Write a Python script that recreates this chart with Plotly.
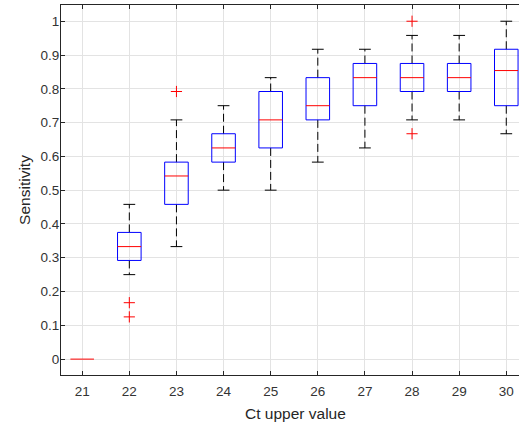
import plotly.graph_objects as go

# ---- data ----
ct_values = [21, 22, 23, 24, 25, 26, 27, 28, 29, 30]
upper_whisker = [0.0, 0.458, 0.708, 0.750, 0.833, 0.917, 0.917, 0.958, 0.958, 1.000]
q3_values = [0.0, 0.375, 0.583, 0.667, 0.792, 0.833, 0.875, 0.875, 0.875, 0.917]
median_values = [0.0, 0.333, 0.542, 0.625, 0.708, 0.750, 0.833, 0.833, 0.833, 0.854]
q1_values = [0.0, 0.292, 0.458, 0.583, 0.625, 0.708, 0.750, 0.792, 0.792, 0.750]
lower_whisker = [0.0, 0.250, 0.333, 0.500, 0.500, 0.583, 0.625, 0.708, 0.708, 0.667]
outlier_ct = [22, 22, 23, 28, 28]
outlier_values = [0.167, 0.125, 0.792, 1.000, 0.667]
y_ticks = [0, 0.1, 0.2, 0.3, 0.4, 0.5, 0.6, 0.7, 0.8, 0.9, 1]
y_tick_labels = ["0", "0.1", "0.2", "0.3", "0.4", "0.5", "0.6", "0.7", "0.8", "0.9", "1"]

BOX_HALF = 0.25
CAP_HALF = 0.125
X_LEFT, X_RIGHT_FULL = 20.55, 30.5

wx, wy, cx, cy, bx, by, mx, my = [], [], [], [], [], [], [], []
for c, uw, q3, md, q1, lw in zip(ct_values, upper_whisker, q3_values,
                                  median_values, q1_values, lower_whisker):
    if uw > q3:
        wx += [c, c, None]
        wy += [q3, uw, None]
    if lw < q1:
        wx += [c, c, None]
        wy += [q1, lw, None]
    if uw > lw:
        cx += [c - CAP_HALF, c + CAP_HALF, None, c - CAP_HALF, c + CAP_HALF, None]
        cy += [uw, uw, None, lw, lw, None]
    if q3 > q1:
        bx += [c - BOX_HALF, c + BOX_HALF, c + BOX_HALF, c - BOX_HALF, c - BOX_HALF, None]
        by += [q1, q1, q3, q3, q1, None]
    mx += [c - BOX_HALF, c + BOX_HALF, None]
    my += [md, md, None]

fig = go.Figure()
fig.add_trace(go.Scatter(x=wx, y=wy, mode="lines",
                         line=dict(color="black", width=1, dash="8px,4px"),
                         hoverinfo="skip"))
fig.add_trace(go.Scatter(x=cx, y=cy, mode="lines",
                         line=dict(color="black", width=1), hoverinfo="skip"))
fig.add_trace(go.Scatter(x=bx, y=by, mode="lines",
                         line=dict(color="#0000ff", width=1), hoverinfo="skip"))
fig.add_trace(go.Scatter(x=mx, y=my, mode="lines",
                         line=dict(color="#ff0000", width=1), hoverinfo="skip"))
fig.add_trace(go.Scatter(x=outlier_ct, y=outlier_values, mode="markers",
                         marker=dict(symbol="cross-thin", size=8,
                                     line=dict(color="#ff0000", width=1)),
                         hoverinfo="skip"))

FONT = "Liberation Sans, Arial, sans-serif"
tick_font = dict(family=FONT, size=13.5, color="#333333")
title_font = dict(family=FONT, size=15.5, color="#262626")

fig.add_annotation(text="Ct upper value", xref="x", yref="paper",
                   x=(X_LEFT + X_RIGHT_FULL) / 2, y=0, yshift=-38,
                   showarrow=False, font=title_font, yanchor="middle")

fig.update_layout(
    width=519, height=426,
    margin=dict(l=61, r=0, t=5, b=51),
    paper_bgcolor="white", plot_bgcolor="white",
    showlegend=False,
    font=tick_font,
    xaxis=dict(
        range=[X_LEFT, 30.27],
        tickmode="array", tickvals=ct_values,
        ticktext=[str(v) for v in ct_values],
        ticks="inside", ticklen=4, tickcolor="#262626",
        showline=True, linecolor="#262626", linewidth=1, mirror="ticks",
        showgrid=True, gridcolor="#e3e3e3", gridwidth=1,
        zeroline=False, tickfont=tick_font, ticklabelstandoff=4,
    ),
    yaxis=dict(
        range=[-0.047, 1.048],
        tickmode="array", tickvals=y_ticks, ticktext=y_tick_labels,
        ticks="inside", ticklen=4, tickcolor="#262626",
        showline=True, linecolor="#262626", linewidth=1,
        showgrid=True, gridcolor="#e3e3e3", gridwidth=1,
        zeroline=False, tickfont=tick_font, ticklabelstandoff=-2,
        title=dict(text="Sensitivity", font=title_font, standoff=6),
    ),
)

fig.write_html("out.html", config={"displayModeBar": False},
               post_script="document.body.style.margin='0px';")
